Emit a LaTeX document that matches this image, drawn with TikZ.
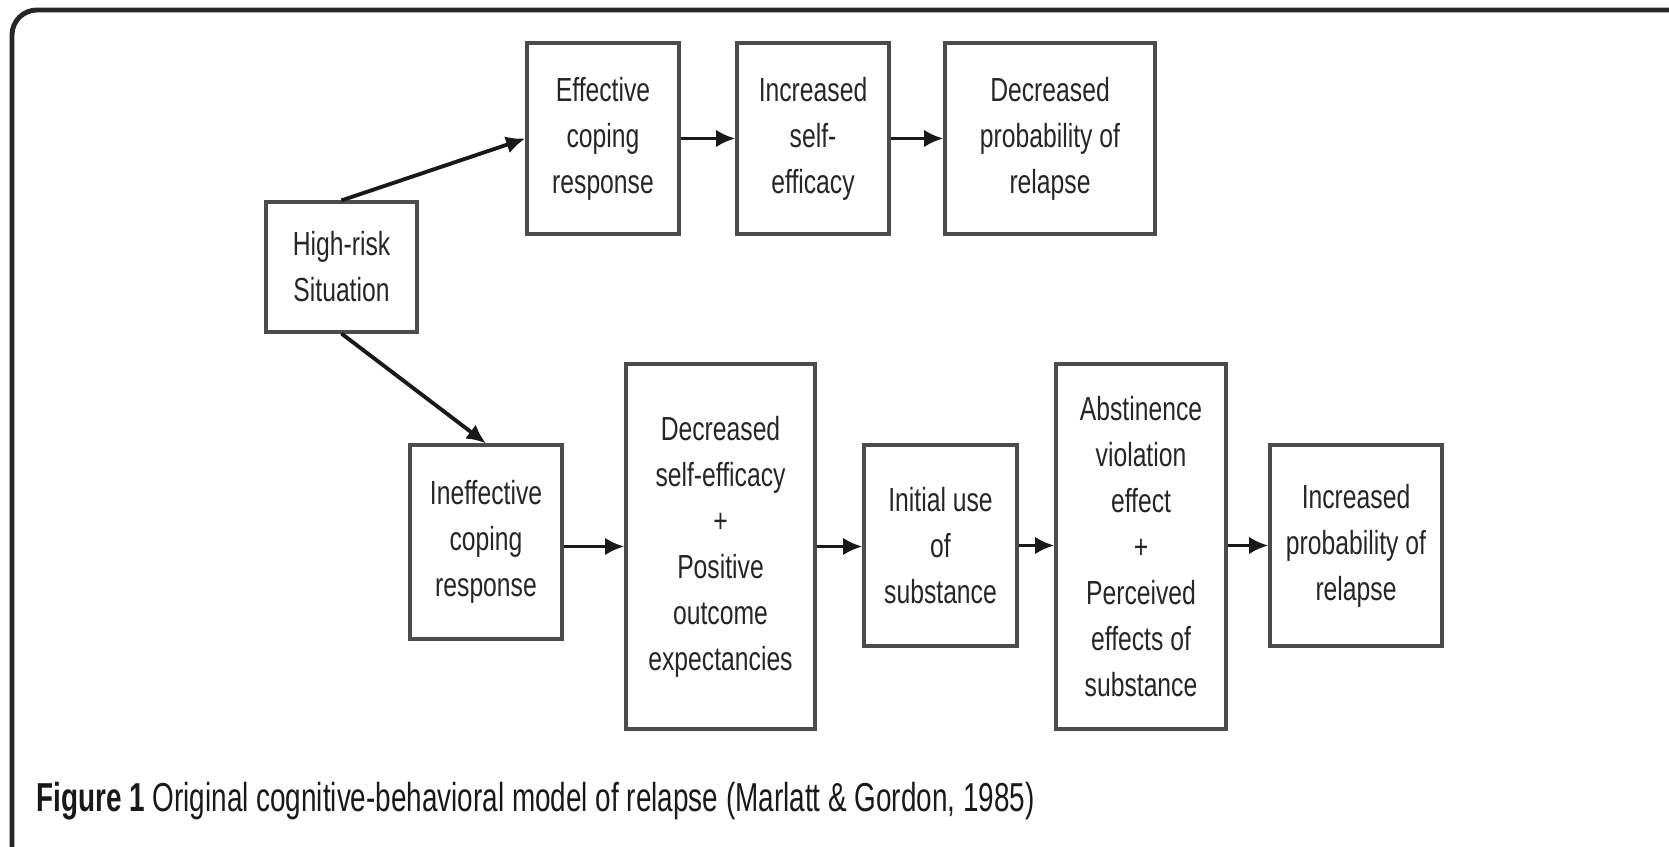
\documentclass[tikz,border=0pt]{standalone}
\usepackage{fontspec}
\usepackage{tikz}
\usetikzlibrary{arrows.meta,positioning}
\newfontfamily\stagefont[FakeStretch=0.74]{Liberation Sans}
\newfontfamily\captionfont[FakeStretch=0.69]{Liberation Sans}
\tikzset{%
    stage/.style={%
        rectangle, draw=black!70, line width=0.9pt, inner sep=0pt, align=center,
        text=black!85, font=\stagefont\fontsize{9.5pt}{13.1pt}\selectfont
    },
    flow/.style={%
        -{Latex[length=5.5pt,width=5pt]}, line width=1.1pt, black!90
    },
    frame/.style={%
        line width=1.4pt, black!85, rounded corners=0.25cm
    },
}

\begin{document}
\begin{tikzpicture}
      \useasboundingbox (0,0) rectangle (16.69,-8.47);
      \draw [frame] (16.69,-0.10) -- (0.12,-0.10) -- (0.12,-8.47);

      \node[stage, minimum width=1.51cm, minimum height=1.30cm] (highrisk) at (3.415,-2.67) {High-risk\\Situation};

      \node[stage, minimum width=1.52cm, minimum height=1.91cm] (effcope) at (6.03,-1.385) {Effective\\coping\\response};
      \node[stage, minimum width=1.52cm, minimum height=1.91cm] (incself) at (8.13,-1.385) {Increased\\self-\\efficacy};
      \node[stage, minimum width=2.10cm, minimum height=1.91cm] (decprob) at (10.50,-1.385) {Decreased\\probability of\\relapse};

      \node[stage, minimum width=1.52cm, minimum height=1.94cm] (ineffcope) at (4.86,-5.42) {Ineffective\\coping\\response};
      \node[stage, minimum width=1.89cm, minimum height=3.65cm] (decself) at (7.205,-5.465) {Decreased\\self-efficacy\\+\\Positive\\outcome\\expectancies};
      \node[stage, minimum width=1.53cm, minimum height=2.01cm] (inituse) at (9.405,-5.455) {Initial use\\of\\substance};
      \node[stage, minimum width=1.70cm, minimum height=3.65cm] (abstviol) at (11.41,-5.465) {Abstinence\\violation\\effect\\+\\Perceived\\effects of\\substance};
      \node[stage, minimum width=1.72cm, minimum height=2.01cm] (incprob) at (13.56,-5.455) {Increased\\probability of\\relapse};

      \draw [flow] (highrisk.north) -- (effcope.west);
      \draw [flow] (effcope.east) -- (incself.west);
      \draw [flow] (incself.east) -- (decprob.west);

      \draw [flow] (highrisk.south) -- (ineffcope.north);
      \draw [flow] (decself.west -| ineffcope.east) -- (decself.west);
      \draw [flow] (decself.east) -- (inituse.west |- decself.east);
      \draw [flow] (inituse.east) -- (abstviol.west |- inituse.east);
      \draw [flow] (abstviol.east |- incprob.west) -- (incprob.west);

      \node[anchor=base west, font=\captionfont\fontsize{11.5pt}{13pt}\selectfont, text=black!90] (caption) at (0.24,-8.12)
        {\textbf{Figure 1} Original cognitive-behavioral model of relapse (Marlatt \& Gordon, 1985)};
\end{tikzpicture}
\end{document}
